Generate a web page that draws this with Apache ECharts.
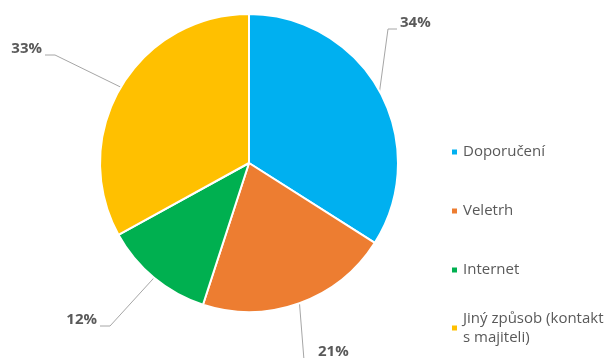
<!DOCTYPE html>
<html>
<head>
<meta charset="utf-8">
<script src="https://cdn.jsdelivr.net/npm/echarts@6/dist/echarts.min.js"></script>
<style>
  html, body { margin: 0; padding: 0; background: #ffffff; }
  #chart { width: 615px; height: 358px; }
</style>
</head>
<body>
<div id="chart"></div>
<script>
// Ways customers found us (share of responses, %)
const categories = ['Doporučení', 'Veletrh', 'Internet', 'Jiný způsob (kontakt s majiteli)'];
const shares = [34, 21, 12, 33];
const colors = ['#00B0F0', '#ED7D31', '#00B050', '#FFC000'];

const center = [249, 163];
const radius = 149;
const textColor = '#595959';
const fontFamily = '"Open Sans", "Noto Sans", sans-serif';

// Where each percentage label sits, and how its leader line meets the text
// (end: offset of the line's end from the label anchor, elbow: horizontal run before it)
const labelSpots = [
  { x: 400, y: 23,  align: 'left',  end: [-3, 6],  elbow: -9 },
  { x: 318, y: 352, align: 'left',  end: [-14, 8], elbow: 0 },
  { x: 97,  y: 320, align: 'right', end: [3, 6],   elbow: 10 },
  { x: 42,  y: 49,  align: 'right', end: [3, 6],   elbow: 10 }
];

// Legend rows: top edge of each row's text block
const legendTops = [142.5, 201.5, 260.5, 299.5];
const legendLineHeight = 19;

const total = shares.reduce((a, b) => a + b, 0);
// point on the rim at the middle of each slice (start at 12 o'clock, clockwise)
function rimPoint(i) {
  let before = 0;
  for (let k = 0; k < i; k++) before += shares[k];
  const frac = (before + shares[i] / 2) / total;
  const ang = frac * Math.PI * 2;
  return [center[0] + radius * Math.sin(ang), center[1] - radius * Math.cos(ang)];
}

// long legend entry wraps before its last two words
function wrapLegend(name) {
  const words = name.split(' ');
  if (words.length <= 3) return name;
  return words.slice(0, -2).join(' ') + '\n' + words.slice(-2).join(' ');
}

const legends = categories.map((name, i) => {
  const last = i === categories.length - 1;
  return {
    data: [name],
    orient: 'vertical',
    left: 450,
    top: legendTops[i],
    padding: 0,
    icon: 'rect',
    itemWidth: 7,
    itemHeight: 7,
    selectedMode: false,
    formatter: wrapLegend,
    textStyle: {
      color: textColor,
      fontFamily: fontFamily,
      fontSize: 15,
      lineHeight: legendLineHeight,
      padding: last ? [legendLineHeight, 0, 0, 0] : 0
    }
  };
});

const chart = echarts.init(document.getElementById('chart'), null, { renderer: 'canvas' });
chart.setOption({
  animation: false,
  backgroundColor: '#ffffff',
  color: colors,
  legend: legends,
  series: [{
    type: 'pie',
    center: center,
    radius: radius,
    startAngle: 90,
    clockwise: true,
    avoidLabelOverlap: false,
    itemStyle: { borderColor: '#ffffff', borderWidth: 2 },
    emphasis: { disabled: true },
    label: {
      show: true,
      position: 'outside',
      formatter: p => Math.round(p.percent) + '%',
      color: textColor,
      fontFamily: fontFamily,
      fontSize: 15,
      fontWeight: 'bold'
    },
    labelLine: {
      show: true,
      length: 20,
      length2: 10,
      smooth: false,
      lineStyle: { color: '#A6A6A6', width: 1 }
    },
    labelLayout: function (p) {
      const s = labelSpots[p.dataIndex];
      const ex = s.x + s.end[0];
      const ey = s.y + s.end[1];
      return {
        x: s.x,
        y: s.y,
        align: s.align,
        verticalAlign: 'middle',
        labelLinePoints: [rimPoint(p.dataIndex), [ex + s.elbow, ey], [ex, ey]]
      };
    },
    data: categories.map((name, i) => ({ name: name, value: shares[i] }))
  }]
});
</script>
</body>
</html>
